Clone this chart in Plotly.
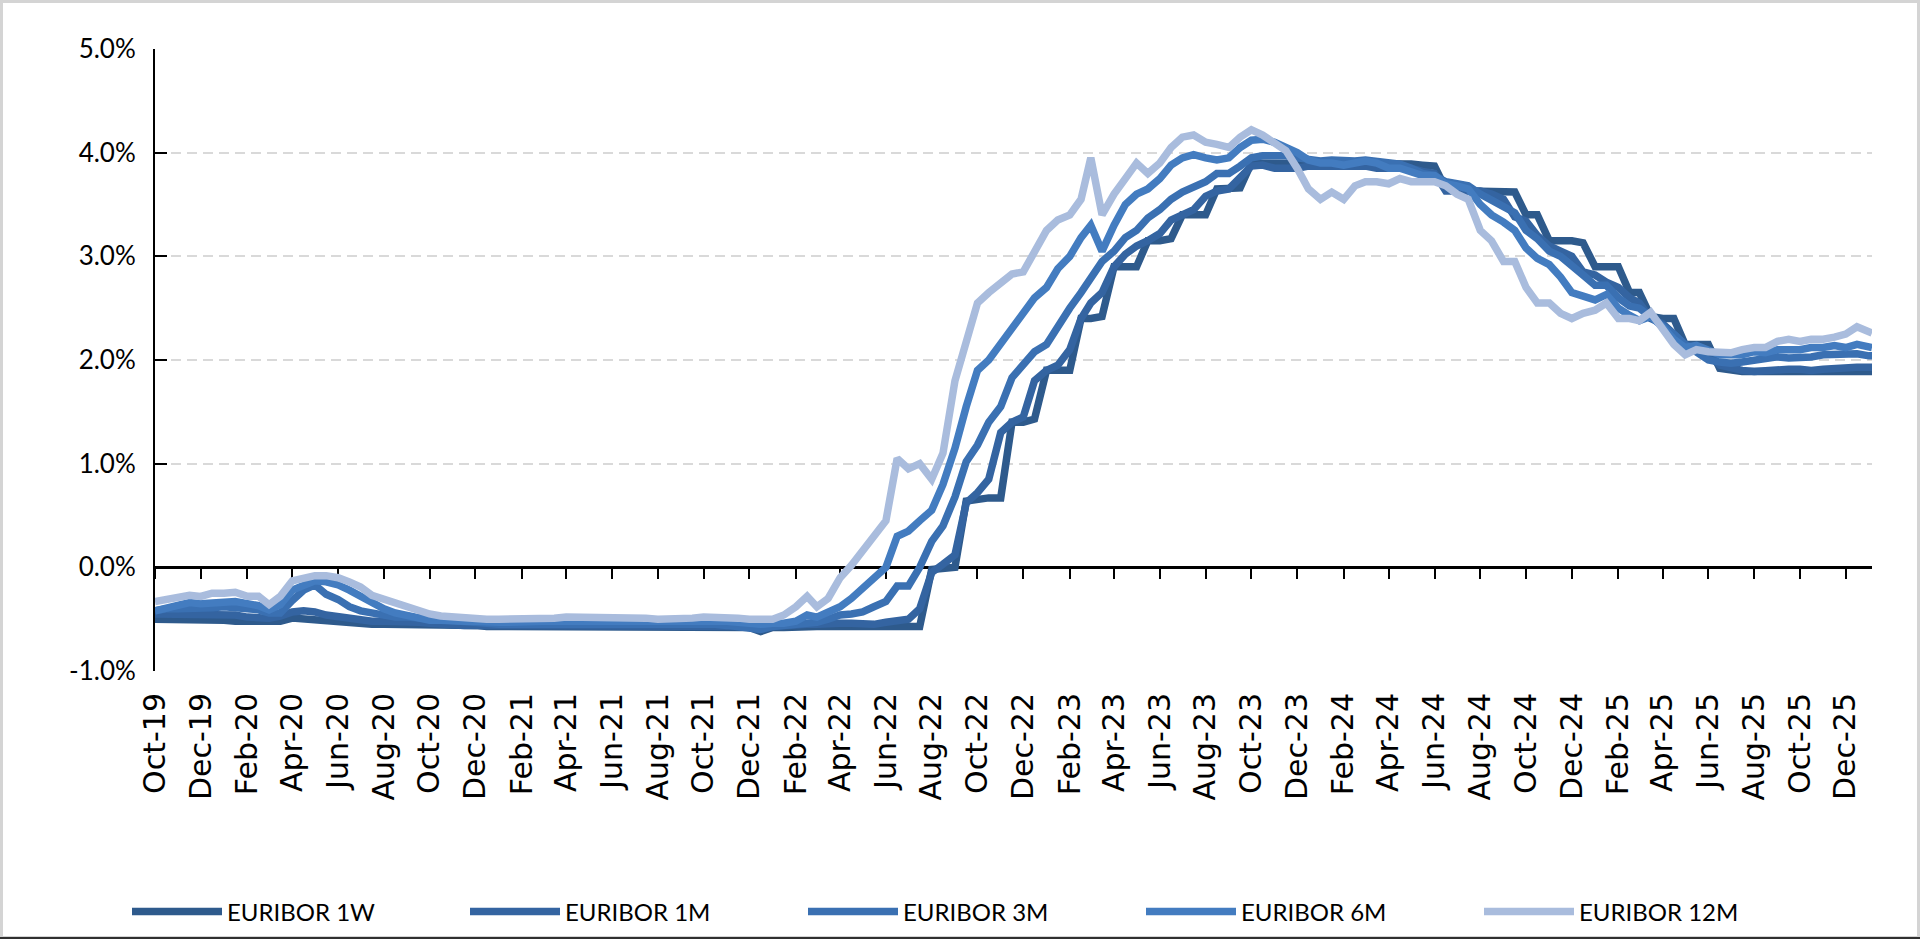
import pandas as pd
import plotly.graph_objects as go

# ---------------- data (percent) ----------------
X_START = "2019-10-01"
X_END = "2026-01-05"
MONTHS = pd.date_range("2019-10-01", "2025-12-01", freq="MS")
DATES = []
for m in MONTHS:
    DATES += [m, m + pd.Timedelta(days=15)]
DATES += [pd.Timestamp("2026-01-01"), pd.Timestamp(X_END)]

EW_2019 = [-0.50, -0.50, -0.50, -0.50, -0.50, -0.51]
EW_2020 = [-0.51, -0.52, -0.52, -0.52, -0.52, -0.52, -0.49, -0.50, -0.51, -0.52, -0.53, -0.54,
           -0.54, -0.55, -0.55, -0.55, -0.55, -0.55, -0.55, -0.55, -0.56, -0.56, -0.56, -0.57]
EW_2021 = [-0.57, -0.57, -0.57, -0.57, -0.57, -0.57, -0.57, -0.57, -0.57, -0.57, -0.57, -0.57,
           -0.57, -0.57, -0.57, -0.57, -0.57, -0.57, -0.57, -0.57, -0.57, -0.58, -0.58, -0.62]
EW_2022 = [-0.58, -0.58, -0.57, -0.57, -0.57, -0.57, -0.57, -0.57, -0.57, -0.57, -0.57, -0.57,
           -0.57, -0.57, -0.02, -0.01, 0.00, 0.64, 0.66, 0.67, 0.67, 1.40, 1.40, 1.43]
EW_2023 = [1.90, 1.90, 1.90, 2.40, 2.40, 2.42, 2.90, 2.90, 2.90, 3.15, 3.15, 3.17,
           3.40, 3.40, 3.40, 3.65, 3.65, 3.66, 3.90, 3.90, 3.90, 3.90, 3.90, 3.90]
EW_2024 = [3.90, 3.90, 3.90, 3.90, 3.90, 3.90, 3.90, 3.90, 3.89, 3.88, 3.87, 3.65,
           3.63, 3.63, 3.63, 3.63, 3.62, 3.62, 3.40, 3.40, 3.15, 3.15, 3.15, 3.13]
EW_2025 = [2.90, 2.90, 2.90, 2.65, 2.65, 2.42, 2.40, 2.40, 2.15, 2.15, 2.15, 1.92,
           1.90, 1.89, 1.89, 1.89, 1.89, 1.89, 1.90, 1.89, 1.90, 1.90, 1.90, 1.90]
EW_2026 = [1.89, 1.89]

E1_2019 = [-0.45, -0.45, -0.45, -0.45, -0.45, -0.46]
E1_2020 = [-0.46, -0.46, -0.48, -0.48, -0.49, -0.47, -0.43, -0.42, -0.43, -0.46, -0.48, -0.50,
           -0.51, -0.52, -0.52, -0.52, -0.52, -0.53, -0.54, -0.55, -0.56, -0.56, -0.56, -0.56]
E1_2021 = [-0.56, -0.56, -0.56, -0.56, -0.56, -0.56, -0.56, -0.56, -0.56, -0.56, -0.56, -0.56,
           -0.56, -0.56, -0.56, -0.56, -0.56, -0.56, -0.56, -0.56, -0.56, -0.57, -0.58, -0.60]
E1_2022 = [-0.57, -0.56, -0.55, -0.55, -0.55, -0.54, -0.54, -0.54, -0.55, -0.55, -0.53, -0.52,
           -0.50, -0.40, -0.05, 0.03, 0.12, 0.62, 0.72, 0.85, 1.30, 1.40, 1.45, 1.80]
E1_2023 = [1.90, 1.95, 2.10, 2.40, 2.55, 2.65, 2.90, 3.02, 3.10, 3.15, 3.22, 3.35,
           3.40, 3.45, 3.58, 3.63, 3.65, 3.75, 3.87, 3.88, 3.85, 3.85, 3.85, 3.87]
E1_2024 = [3.87, 3.88, 3.87, 3.87, 3.87, 3.85, 3.85, 3.85, 3.85, 3.82, 3.80, 3.63,
           3.63, 3.63, 3.63, 3.60, 3.55, 3.38, 3.34, 3.20, 3.10, 3.05, 3.00, 2.85]
E1_2025 = [2.82, 2.75, 2.70, 2.60, 2.55, 2.40, 2.35, 2.25, 2.15, 2.11, 2.05, 1.95,
           1.92, 1.90, 1.89, 1.90, 1.90, 1.91, 1.91, 1.90, 1.91, 1.92, 1.93, 1.93]
E1_2026 = [1.93, 1.93]

E3_2019 = [-0.42, -0.40, -0.40, -0.40, -0.40, -0.39]
E3_2020 = [-0.38, -0.39, -0.40, -0.41, -0.44, -0.44, -0.32, -0.22, -0.17, -0.26, -0.31, -0.38,
           -0.42, -0.44, -0.46, -0.48, -0.48, -0.49, -0.50, -0.51, -0.52, -0.52, -0.53, -0.54]
E3_2021 = [-0.55, -0.55, -0.55, -0.54, -0.54, -0.54, -0.54, -0.54, -0.54, -0.54, -0.54, -0.54,
           -0.54, -0.55, -0.55, -0.55, -0.55, -0.55, -0.55, -0.55, -0.56, -0.57, -0.58, -0.60]
E3_2022 = [-0.57, -0.56, -0.55, -0.53, -0.53, -0.50, -0.46, -0.45, -0.43, -0.38, -0.33, -0.18,
           -0.18, 0.00, 0.25, 0.40, 0.68, 1.02, 1.18, 1.40, 1.55, 1.83, 1.95, 2.08]
E3_2023 = [2.15, 2.33, 2.50, 2.65, 2.80, 2.95, 3.05, 3.18, 3.25, 3.37, 3.45, 3.55,
           3.62, 3.67, 3.72, 3.80, 3.80, 3.87, 3.95, 3.97, 3.97, 3.97, 3.95, 3.93]
E3_2024 = [3.92, 3.93, 3.92, 3.92, 3.93, 3.92, 3.90, 3.89, 3.85, 3.80, 3.78, 3.72,
           3.70, 3.68, 3.60, 3.55, 3.48, 3.42, 3.25, 3.17, 3.05, 3.00, 2.90, 2.82]
E3_2025 = [2.72, 2.72, 2.60, 2.52, 2.50, 2.42, 2.35, 2.25, 2.15, 2.08, 2.00, 1.98,
           1.97, 1.98, 2.00, 2.02, 2.03, 2.02, 2.02, 2.03, 2.05, 2.05, 2.06, 2.06]
E3_2026 = [2.04, 2.04]

E6_2019 = [-0.42, -0.39, -0.36, -0.34, -0.35, -0.34]
E6_2020 = [-0.33, -0.33, -0.35, -0.37, -0.41, -0.36, -0.22, -0.17, -0.13, -0.14, -0.17, -0.22,
           -0.28, -0.33, -0.40, -0.44, -0.46, -0.49, -0.51, -0.51, -0.52, -0.52, -0.52, -0.53]
E6_2021 = [-0.53, -0.53, -0.52, -0.52, -0.52, -0.52, -0.52, -0.52, -0.51, -0.51, -0.51, -0.51,
           -0.51, -0.52, -0.52, -0.52, -0.52, -0.52, -0.52, -0.52, -0.52, -0.53, -0.54, -0.55]
E6_2022 = [-0.54, -0.54, -0.52, -0.46, -0.48, -0.43, -0.38, -0.30, -0.20, -0.10, 0.00, 0.30,
           0.35, 0.45, 0.55, 0.80, 1.15, 1.55, 1.90, 2.00, 2.15, 2.30, 2.45, 2.60]
E6_2023 = [2.70, 2.88, 3.00, 3.18, 3.30, 3.05, 3.30, 3.50, 3.60, 3.65, 3.75, 3.88,
           3.95, 3.98, 3.95, 3.93, 3.95, 4.05, 4.12, 4.13, 4.10, 4.05, 4.00, 3.93]
E6_2024 = [3.90, 3.90, 3.88, 3.90, 3.92, 3.90, 3.85, 3.85, 3.82, 3.78, 3.78, 3.70,
           3.68, 3.65, 3.50, 3.40, 3.33, 3.25, 3.08, 2.98, 2.92, 2.80, 2.65, 2.62]
E6_2025 = [2.58, 2.63, 2.50, 2.43, 2.38, 2.42, 2.32, 2.20, 2.12, 2.14, 2.10, 2.05,
           2.05, 2.05, 2.08, 2.07, 2.10, 2.10, 2.10, 2.12, 2.12, 2.14, 2.12, 2.15]
E6_2026 = [2.12, 2.12]

E12_2019 = [-0.33, -0.31, -0.28, -0.27, -0.28, -0.25]
E12_2020 = [-0.25, -0.24, -0.28, -0.28, -0.36, -0.28, -0.13, -0.11, -0.08, -0.08, -0.10, -0.14,
            -0.19, -0.27, -0.31, -0.35, -0.38, -0.43, -0.45, -0.47, -0.48, -0.48, -0.50, -0.50]
E12_2021 = [-0.50, -0.50, -0.50, -0.50, -0.49, -0.49, -0.48, -0.48, -0.48, -0.48, -0.48, -0.48,
            -0.48, -0.49, -0.50, -0.50, -0.50, -0.49, -0.48, -0.48, -0.48, -0.49, -0.50, -0.50]
E12_2022 = [-0.50, -0.46, -0.38, -0.28, -0.38, -0.30, -0.10, 0.02, 0.15, 0.30, 0.45, 1.05,
            0.95, 1.00, 0.85, 1.10, 1.80, 2.20, 2.55, 2.65, 2.75, 2.83, 2.85, 3.05]
E12_2023 = [3.25, 3.35, 3.40, 3.55, 3.95, 3.40, 3.60, 3.75, 3.90, 3.80, 3.90, 4.05,
            4.15, 4.17, 4.10, 4.08, 4.05, 4.15, 4.22, 4.17, 4.10, 4.02, 3.85, 3.65]
E12_2024 = [3.55, 3.62, 3.55, 3.68, 3.72, 3.72, 3.70, 3.75, 3.72, 3.72, 3.72, 3.68,
            3.60, 3.55, 3.25, 3.15, 2.95, 2.95, 2.70, 2.55, 2.55, 2.45, 2.40, 2.45]
E12_2025 = [2.48, 2.55, 2.40, 2.40, 2.38, 2.46, 2.30, 2.15, 2.05, 2.10, 2.08, 2.08,
            2.07, 2.10, 2.12, 2.12, 2.18, 2.20, 2.18, 2.20, 2.20, 2.22, 2.25, 2.32]
E12_2026 = [2.27, 2.26]

EW = EW_2019 + EW_2020 + EW_2021 + EW_2022 + EW_2023 + EW_2024 + EW_2025 + EW_2026
E1 = E1_2019 + E1_2020 + E1_2021 + E1_2022 + E1_2023 + E1_2024 + E1_2025 + E1_2026
E3 = E3_2019 + E3_2020 + E3_2021 + E3_2022 + E3_2023 + E3_2024 + E3_2025 + E3_2026
E6 = E6_2019 + E6_2020 + E6_2021 + E6_2022 + E6_2023 + E6_2024 + E6_2025 + E6_2026
E12 = E12_2019 + E12_2020 + E12_2021 + E12_2022 + E12_2023 + E12_2024 + E12_2025 + E12_2026

NAMES = ["EURIBOR 1W", "EURIBOR 1M", "EURIBOR 3M", "EURIBOR 6M", "EURIBOR 12M"]
SERIES = [EW, E1, E3, E6, E12]
COLORS = ["#2E5A8C", "#3464A1", "#3A70B2", "#437CC0", "#A9BCDD"]

Y_TICKS = [-1, 0, 1, 2, 3, 4, 5]
Y_LABELS = ["-1.0%", "0.0%", "1.0%", "2.0%", "3.0%", "4.0%", "5.0%"]

# ---------------- figure ----------------
W, H = 1920, 939
L, R, T, B = 155, 48, 49, 268
PW, PH = W - L - R, H - T - B

fig = go.Figure()
for name, vals, color in zip(NAMES, SERIES, COLORS):
    fig.add_trace(go.Scatter(x=DATES, y=vals, name=name, mode="lines",
                             line=dict(color=color, width=7.5), hoverinfo="skip"))
# helper trace so the zero-line axis is drawn
fig.add_trace(go.Scatter(x=DATES[:1], y=EW[:1], xaxis="x2", mode="markers",
                         marker=dict(opacity=0), showlegend=False, hoverinfo="skip"))

fig.update_layout(
    template="none",
    width=W, height=H,
    margin=dict(l=L, r=R, t=T, b=B, pad=0),
    paper_bgcolor="white", plot_bgcolor="white",
    font=dict(family="Lato", size=26, color="black"),
    showlegend=True,
    xaxis=dict(type="date", range=[X_START, X_END], tick0=X_START, dtick="M2",
               tickformat="%b-%y", tickangle=-90, showgrid=False, showline=False,
               ticks="", zeroline=False, automargin=False,
               tickfont=dict(family="DejaVu Sans", size=30, color="black"),
               ticklabelstandoff=15),
    xaxis2=dict(type="date", overlaying="x", matches="x", anchor="free", position=1 / 6,
                side="bottom", showline=True, linecolor="black", linewidth=2.5,
                ticks="outside", ticklen=10, tickwidth=2, tickcolor="black",
                showticklabels=False, showgrid=False, zeroline=False,
                tick0=X_START, dtick="M2", layer="below traces", automargin=False),
    yaxis=dict(range=[-1, 5], tickvals=Y_TICKS, ticktext=Y_LABELS, ticks="inside",
               ticklen=12, tickwidth=2, tickcolor="black", showline=True,
               linecolor="black", linewidth=2, showgrid=True, gridcolor="#D9D9D9",
               gridwidth=2, griddash="10px,6px", zeroline=False, automargin=False,
               ticklabelstandoff=12, tickfont=dict(family="Lato", size=26, color="black")),
    legend=dict(orientation="h", xref="container", x=127 / W, xanchor="left",
                yref="container", y=1 - 912 / H, yanchor="middle",
                entrywidth=233, entrywidthmode="pixels", itemwidth=90,
                font=dict(family="Lato", size=24, color="black"),
                bgcolor="rgba(0,0,0,0)"),
    shapes=[
        dict(type="rect", xref="paper", yref="paper",
             x0=(1.5 - L) / PW, x1=(W - L - 1.5) / PW,
             y0=(-B + 1.5) / PH, y1=(H - B - 1.5) / PH,
             line=dict(color="#D4D4D4", width=3), layer="below"),
        dict(type="line", xref="paper", yref="paper",
             x0=-L / PW, x1=(W - L) / PW, y0=(-B + 1) / PH, y1=(-B + 1) / PH,
             line=dict(color="#303030", width=2)),
    ],
)

fig.write_html("out.html", config={"displayModeBar": False},
               post_script="document.body.style.margin='0';document.body.style.overflow='hidden';")
